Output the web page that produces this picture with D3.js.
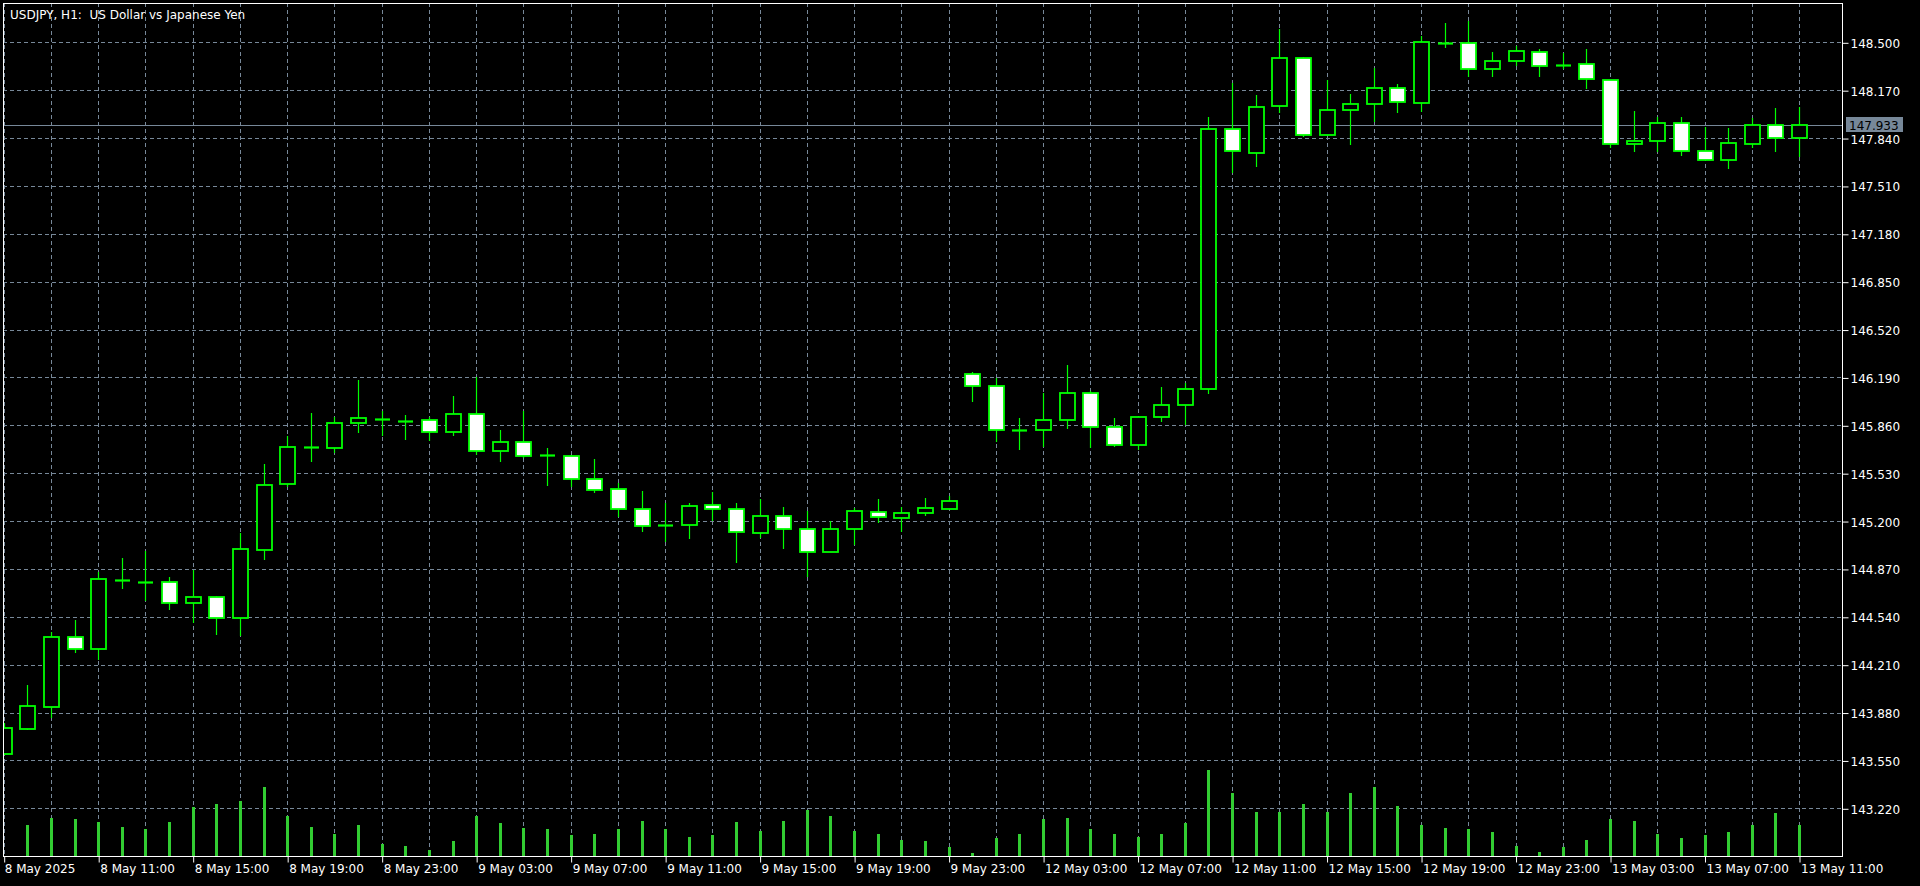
<!DOCTYPE html>
<html><head><meta charset="utf-8">
<script src="https://cdn.jsdelivr.net/npm/d3@7"></script>
<style>html,body{margin:0;padding:0;background:#000;overflow:hidden}</style>
</head><body><svg id="c" width="1920" height="886"></svg>
<script>
const chartTitle = "USDJPY, H1:  US Dollar vs Japanese Yen";
const times = [
"8 May 07:00","8 May 08:00","8 May 09:00","8 May 10:00","8 May 11:00","8 May 12:00","8 May 13:00","8 May 14:00","8 May 15:00","8 May 16:00","8 May 17:00","8 May 18:00","8 May 19:00","8 May 20:00","8 May 21:00","8 May 22:00","8 May 23:00",
"9 May 00:00","9 May 01:00","9 May 02:00","9 May 03:00","9 May 04:00","9 May 05:00","9 May 06:00","9 May 07:00","9 May 08:00","9 May 09:00","9 May 10:00","9 May 11:00","9 May 12:00","9 May 13:00","9 May 14:00","9 May 15:00","9 May 16:00","9 May 17:00","9 May 18:00","9 May 19:00","9 May 20:00","9 May 21:00","9 May 22:00","9 May 23:00",
"12 May 00:00","12 May 01:00","12 May 02:00","12 May 03:00","12 May 04:00","12 May 05:00","12 May 06:00","12 May 07:00","12 May 08:00","12 May 09:00","12 May 10:00","12 May 11:00","12 May 12:00","12 May 13:00","12 May 14:00","12 May 15:00","12 May 16:00","12 May 17:00","12 May 18:00","12 May 19:00","12 May 20:00","12 May 21:00","12 May 22:00","12 May 23:00",
"13 May 00:00","13 May 01:00","13 May 02:00","13 May 03:00","13 May 04:00","13 May 05:00","13 May 06:00","13 May 07:00","13 May 08:00","13 May 09:00","13 May 10:00","13 May 11:00"];
const openP = [143.594,143.767,143.920,144.401,144.316,144.792,144.782,144.778,144.633,144.677,144.530,144.998,145.458,145.708,145.702,145.874,145.901,145.892,145.897,145.814,145.938,145.683,145.745,145.657,145.651,145.490,145.419,145.285,145.171,145.173,145.309,145.285,145.120,145.235,145.143,144.989,145.143,145.265,145.223,145.254,145.283,146.214,146.131,145.826,145.826,145.897,146.081,145.846,145.722,145.915,145.998,146.110,147.902,147.739,148.063,148.390,147.859,148.033,148.075,148.187,148.084,148.497,148.493,148.316,148.369,148.431,148.346,148.350,148.238,147.799,147.818,147.944,147.751,147.689,147.799,147.932,147.842];
const highP = [143.806,144.070,144.433,144.518,144.851,144.943,144.994,144.812,144.863,144.683,145.116,145.593,145.786,145.943,145.915,146.172,145.961,145.931,145.919,146.062,146.191,145.828,145.959,145.706,145.655,145.626,145.460,145.409,145.322,145.322,145.402,145.322,145.350,145.299,145.269,145.203,145.288,145.350,145.299,145.361,145.373,146.225,146.184,145.908,146.081,146.276,146.097,145.912,145.919,146.122,146.154,147.987,148.217,148.137,148.590,148.401,148.240,148.144,148.325,148.213,148.545,148.631,148.647,148.431,148.474,148.452,148.424,148.452,148.240,148.026,147.987,147.987,147.914,147.907,147.976,148.049,148.056];
const lowP = [143.588,143.760,143.840,144.293,144.242,144.732,144.651,144.587,144.495,144.415,144.410,144.932,145.435,145.609,145.671,145.809,145.786,145.759,145.752,145.788,145.655,145.609,145.633,145.444,145.437,145.396,145.230,145.123,145.058,145.076,145.203,144.913,145.081,145.007,144.817,144.987,145.035,145.189,145.127,145.237,145.280,146.023,145.747,145.690,145.713,145.833,145.706,145.709,145.690,145.885,145.862,146.076,147.597,147.643,148.015,147.845,147.855,147.794,147.949,148.011,148.022,148.459,148.259,148.259,148.339,148.263,148.316,148.176,147.773,147.746,147.746,147.716,147.687,147.625,147.769,147.746,147.707];
const closeP = [143.772,143.923,144.401,144.316,144.799,144.792,144.782,144.633,144.677,144.530,145.005,145.451,145.713,145.708,145.878,145.908,145.901,145.892,145.814,145.938,145.683,145.745,145.651,145.657,145.490,145.416,145.285,145.164,145.171,145.306,145.283,145.123,145.235,145.143,144.989,145.143,145.267,145.226,145.258,145.288,145.340,146.131,145.828,145.826,145.897,146.081,145.846,145.722,145.915,145.998,146.110,147.902,147.751,148.054,148.390,147.859,148.035,148.075,148.187,148.086,148.502,148.497,148.318,148.371,148.442,148.339,148.346,148.247,147.799,147.822,147.944,147.751,147.689,147.804,147.932,147.842,147.933];
const volumes = [3000,3100,3800,3670,3400,2930,2700,3400,4870,5170,5470,6930,4000,2930,2200,3100,1170,1000,600,1470,4000,3270,2800,2670,2070,2200,2730,3530,2700,1900,2070,3400,2500,3530,4570,4000,2500,2200,1630,1470,930,300,1800,2200,3670,3800,2730,2200,1870,2200,3270,8570,6330,4400,4430,5170,4430,6330,6930,5000,3100,2800,2670,2370,1000,430,930,1600,3670,3530,2200,1770,2070,2370,3100,4300,3100];
const priceTicks = [148.500,148.170,147.840,147.510,147.180,146.850,146.520,146.190,145.860,145.530,145.200,144.870,144.540,144.210,143.880,143.550,143.220];
const xTickTimes = ["8 May 07:00","8 May 11:00","8 May 15:00","8 May 19:00","8 May 23:00","9 May 03:00","9 May 07:00","9 May 11:00","9 May 15:00","9 May 19:00","9 May 23:00","12 May 03:00","12 May 07:00","12 May 11:00","12 May 15:00","12 May 19:00","12 May 23:00","13 May 03:00","13 May 07:00","13 May 11:00"];
const xTickLabels = ["8 May 2025","8 May 11:00","8 May 15:00","8 May 19:00","8 May 23:00","9 May 03:00","9 May 07:00","9 May 11:00","9 May 15:00","9 May 19:00","9 May 23:00","12 May 03:00","12 May 07:00","12 May 11:00","12 May 15:00","12 May 19:00","12 May 23:00","13 May 03:00","13 May 07:00","13 May 11:00"];
const currentPrice = 147.933;

const FG = "#ffffff", GRID = "#778899", BAR = "#00ff00", VOL = "#32cd32";
const FONT = "DejaVu Sans, sans-serif";
const L = 3, T = 3, R = 1842, B = 856;

const svg = d3.select("#c");
svg.append("rect").attr("width",1920).attr("height",886).attr("fill","#000");

const x = d3.scalePoint().domain(times).range([3.7, 1799]);
const y = d3.scaleLinear().domain([143.22, 148.5]).range([808.3, 42.3]);
const v = d3.scaleLinear().domain([0, 8570]).range([B, 770.3]);

const defs = svg.append("defs");
defs.append("clipPath").attr("id","plot").append("rect")
  .attr("x", L+1).attr("y", T+1).attr("width", R-L-1).attr("height", B-T-1);
defs.append("clipPath").attr("id","volclip").append("rect")
  .attr("x", L+4).attr("y", T+1).attr("width", R-L-4).attr("height", B-T-1);

const g = svg.append("g").attr("clip-path","url(#plot)");
const px = t => Math.round(x(t));
const py = p => Math.round(y(p));

// grid
g.selectAll(".hg").data(priceTicks).join("line")
  .attr("x1", L).attr("x2", R)
  .attr("y1", d => py(d)+0.5).attr("y2", d => py(d)+0.5)
  .attr("stroke", GRID).attr("stroke-width",1).attr("stroke-dasharray","4,3");
g.selectAll(".vg").data(times.filter((t,i)=>i%2===0)).join("line")
  .attr("x1", d => px(d)+0.5).attr("x2", d => px(d)+0.5)
  .attr("y1", T).attr("y2", B)
  .attr("stroke", GRID).attr("stroke-width",1).attr("stroke-dasharray","4,3");

// volumes
g.append("g").attr("clip-path","url(#volclip)")
  .selectAll(".vol").data(times).join("rect")
  .attr("x", d => px(d)-1).attr("width", 3)
  .attr("y", (d,i) => Math.round(v(volumes[i])))
  .attr("height", (d,i) => B - Math.round(v(volumes[i])))
  .attr("fill", VOL);

// current price line
g.append("line").attr("x1", L).attr("x2", R)
  .attr("y1", Math.round(y(currentPrice))+0.5).attr("y2", Math.round(y(currentPrice))+0.5)
  .attr("stroke", GRID).attr("stroke-width",1);

// candles
const cg = g.append("g");
times.forEach((t,i) => {
  const cx = px(t);
  const o = openP[i], c = closeP[i];
  cg.append("line").attr("x1", cx+0.5).attr("x2", cx+0.5)
    .attr("y1", py(highP[i])).attr("y2", py(lowP[i]))
    .attr("stroke", BAR).attr("stroke-width", 1.2);
  if (o === c) {
    cg.append("line").attr("x1", cx-7).attr("x2", cx+8)
      .attr("y1", py(o)+0.5).attr("y2", py(o)+0.5)
      .attr("stroke", BAR).attr("stroke-width", 2.2);
  } else {
    const top = py(Math.max(o,c)), bot = py(Math.min(o,c));
    cg.append("rect").attr("x", cx-7).attr("width", 15)
      .attr("y", top).attr("height", Math.max(1, bot-top))
      .attr("fill", c > o ? "#000" : "#fff")
      .attr("stroke", BAR).attr("stroke-width", 1.8);
  }
});

// frame
svg.append("rect").attr("x", L+0.5).attr("y", T+0.5).attr("width", R-L).attr("height", B-T)
  .attr("fill","none").attr("stroke", FG).attr("stroke-width",1);

// price axis
const ya = svg.append("g").attr("transform", `translate(${R+0.5},0.5)`)
  .call(d3.axisRight(y).tickValues(priceTicks).tickSize(6).tickFormat(d3.format(".3f")));
ya.select(".domain").remove();
ya.selectAll(".tick line").attr("stroke", FG);
ya.selectAll(".tick text").attr("fill", FG).attr("font-family", FONT).attr("font-size", 12)
  .attr("x", 8).attr("dy", "0.37em");

// current price label
const cpy = Math.round(y(currentPrice));
svg.append("rect").attr("x", 1846).attr("y", cpy-8).attr("width", 57).attr("height", 15).attr("fill", GRID);
svg.append("text").attr("x", 1849).attr("y", cpy+4.5).attr("fill","#000")
  .attr("font-family", FONT).attr("font-size", 12).text(d3.format(".3f")(currentPrice));

// time axis
const xa = svg.append("g").attr("transform", `translate(0.5,${B+0.5})`)
  .call(d3.axisBottom(x).tickValues(xTickTimes).tickSize(6)
    .tickFormat(d => xTickLabels[xTickTimes.indexOf(d)]));
xa.select(".domain").remove();
xa.selectAll(".tick line").attr("stroke", FG);
xa.selectAll(".tick text").attr("fill", FG).attr("font-family", FONT).attr("font-size", 12)
  .attr("text-anchor","start").attr("x", 1).attr("y", 8);
xa.select(".tick text").attr("x", 0);

// title
svg.append("text").attr("x", 10).attr("y", 19).attr("fill", FG)
  .attr("font-family", FONT).attr("font-size", 12).attr("xml:space","preserve")
  .style("white-space","pre").text(chartTitle);
</script></body></html>
